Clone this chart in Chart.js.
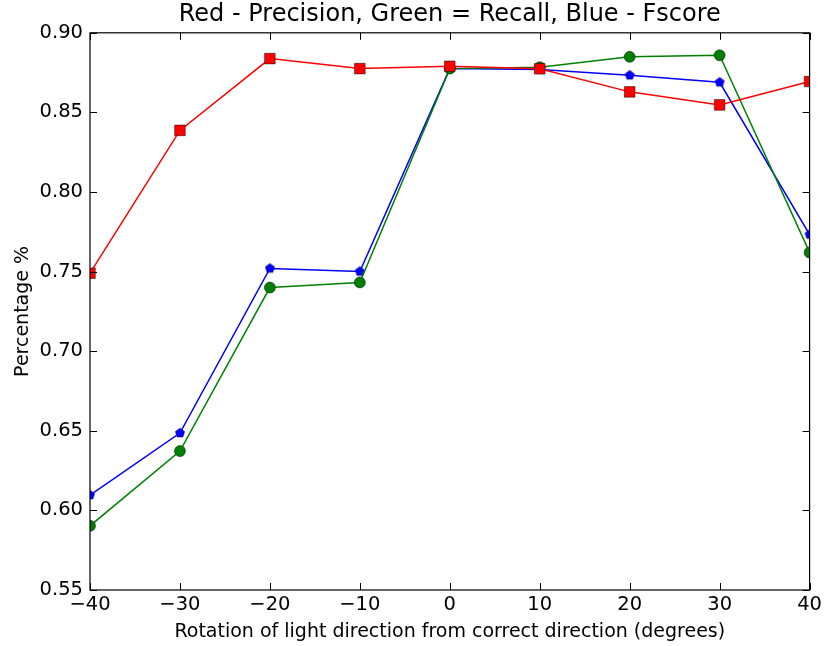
<!DOCTYPE html>
<html>
<head>
<meta charset="utf-8">
<script src="https://cdn.jsdelivr.net/npm/chart.js@4"></script>
<style>
  html, body { margin: 0; padding: 0; background: #fff; }
  #wrap { width: 825px; height: 646px; }
</style>
</head>
<body>
<div id="wrap"><canvas id="chart" width="825" height="646"></canvas></div>
<script>
const angles = [-40, -30, -20, -10, 0, 10, 20, 30, 40];
const precision = [0.749, 0.8387, 0.8838, 0.8775, 0.879, 0.8774, 0.8629, 0.8547, 0.8694];
const recall = [0.5903, 0.6373, 0.740, 0.7432, 0.8775, 0.8784, 0.8849, 0.8859, 0.762];
const fscore = [0.6096, 0.6486, 0.752, 0.7501, 0.8775, 0.8769, 0.8733, 0.8689, 0.7733];
const xTicks = [-40, -30, -20, -10, 0, 10, 20, 30, 40];
const yTicks = [0.55, 0.60, 0.65, 0.70, 0.75, 0.80, 0.85, 0.90];

const FONT = "'DejaVu Sans', sans-serif";

// matplotlib-style pentagon marker for the blue series
function pentagon(r, fill) {
  const c = document.createElement('canvas');
  const s = Math.ceil(r * 2 + 2);
  c.width = s; c.height = s;
  const g = c.getContext('2d');
  g.beginPath();
  for (let i = 0; i < 5; i++) {
    const a = -Math.PI / 2 + i * 2 * Math.PI / 5;
    const px = s / 2 + r * Math.cos(a), py = s / 2 + r * Math.sin(a);
    if (i === 0) g.moveTo(px, py); else g.lineTo(px, py);
  }
  g.closePath();
  g.fillStyle = fill; g.fill();
  g.strokeStyle = 'rgba(0,0,0,0.6)'; g.lineWidth = 0.6; g.stroke();
  return c;
}

// box around the plot plus inward ticks on all four sides
const frame = {
  id: 'frame',
  afterDraw(chart) {
    const { ctx, chartArea: a, scales } = chart;
    ctx.save();
    ctx.strokeStyle = '#000';
    ctx.lineWidth = 1.2;
    ctx.strokeRect(a.left, a.top, a.right - a.left, a.bottom - a.top);
    ctx.lineWidth = 1;
    xTicks.forEach(v => {
      const x = Math.round(scales.x.getPixelForValue(v)) + 0.5;
      ctx.beginPath();
      ctx.moveTo(x, a.bottom); ctx.lineTo(x, a.bottom - 7);
      ctx.moveTo(x, a.top); ctx.lineTo(x, a.top + 7);
      ctx.stroke();
    });
    yTicks.forEach(v => {
      const y = Math.round(scales.y.getPixelForValue(v)) + 0.5;
      ctx.beginPath();
      ctx.moveTo(a.left, y); ctx.lineTo(a.left + 7, y);
      ctx.moveTo(a.right, y); ctx.lineTo(a.right - 7, y);
      ctx.stroke();
    });
    ctx.restore();
  }
};

function series(data, color, style, radius) {
  return {
    data: angles.map((x, i) => ({ x, y: data[i] })),
    borderColor: color,
    backgroundColor: color,
    borderWidth: 1.5,
    pointStyle: style,
    pointRadius: radius,
    pointHoverRadius: radius,
    pointBorderColor: 'rgba(0,0,0,0.6)',
    pointBorderWidth: 0.8,
    pointBackgroundColor: color,
    tension: 0,
    clip: 0
  };
}

new Chart(document.getElementById('chart'), {
  type: 'line',
  data: {
    datasets: [
      series(precision, '#ff0000', 'rect', 7.5),
      series(recall, '#008000', 'circle', 5.5),
      series(fscore, '#0000ff', pentagon(5, '#0000ff'), 5)
    ]
  },
  options: {
    responsive: false,
    animation: false,
    layout: { padding: { left: 0, right: 15, top: 0, bottom: 0 } },
    plugins: {
      legend: { display: false },
      tooltip: { enabled: false },
      title: {
        display: true,
        fullSize: false,
        text: 'Red - Precision, Green = Recall, Blue - Fscore',
        color: '#000',
        font: { family: FONT, size: 24, weight: 'normal' },
        padding: { top: 0, bottom: 4 }
      }
    },
    scales: {
      x: {
        type: 'linear',
        min: -40, max: 40,
        afterBuildTicks: s => { s.ticks = xTicks.map(v => ({ value: v })); },
        afterFit: s => { s.height = 56; },
        grid: { display: false, drawTicks: false },
        border: { display: false },
        ticks: {
          color: '#000',
          font: { family: FONT, size: 19.5 },
          padding: 3,
          maxRotation: 0,
          callback: v => String(v).replace('-', '\u2212')
        },
        title: {
          display: true,
          text: 'Rotation of light direction from correct direction (degrees)',
          color: '#000',
          font: { family: FONT, size: 19 },
          padding: { top: 0, bottom: 3 }
        }
      },
      y: {
        min: 0.55, max: 0.90,
        afterBuildTicks: s => { s.ticks = yTicks.map(v => ({ value: v })); },
        afterFit: s => { s.width = 90; },
        grid: { display: false, drawTicks: false },
        border: { display: false },
        ticks: {
          color: '#000',
          font: { family: FONT, size: 19.5 },
          padding: 7,
          callback: v => Number(v).toFixed(2)
        },
        title: {
          display: true,
          text: 'Percentage %',
          color: '#000',
          font: { family: FONT, size: 19 },
          padding: { top: 12, bottom: 0 }
        }
      }
    }
  },
  plugins: [frame]
});
</script>
</body>
</html>
